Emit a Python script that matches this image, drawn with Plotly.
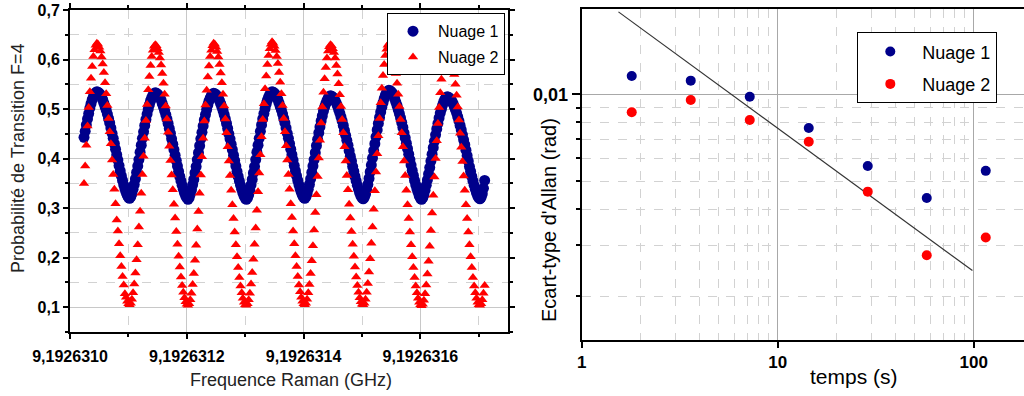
import numpy as np
import plotly.graph_objects as go

# ---------------- Left panel: Raman frequency scan ----------------
# scan grid (GHz): 344 equally spaced settings of the Raman frequency
freq_start = 9.192631024
freq_stop = 9.19263171
freq_count = 344

nuage1_prob = [
    0.443, 0.455, 0.468, 0.480, 0.491, 0.502, 0.511, 0.519, 0.525, 0.530, 0.533,
    0.535, 0.534, 0.532, 0.529, 0.525, 0.519, 0.512, 0.505, 0.498, 0.490,
    0.481, 0.472, 0.462, 0.451, 0.441, 0.430, 0.419, 0.408, 0.397, 0.386,
    0.375, 0.365, 0.356, 0.347, 0.339, 0.332, 0.326, 0.322, 0.320, 0.323,
    0.329, 0.338, 0.348, 0.359, 0.372, 0.385, 0.398, 0.413, 0.427, 0.441,
    0.454, 0.467, 0.479, 0.490, 0.500, 0.509, 0.517, 0.523, 0.528, 0.531,
    0.533, 0.532, 0.530, 0.527, 0.523, 0.518, 0.511, 0.504, 0.497, 0.489,
    0.480, 0.471, 0.461, 0.451, 0.440, 0.429, 0.418, 0.407, 0.396, 0.385,
    0.374, 0.364, 0.355, 0.346, 0.338, 0.331, 0.325, 0.321, 0.318, 0.321,
    0.328, 0.337, 0.347, 0.358, 0.371, 0.384, 0.398, 0.412, 0.426, 0.440,
    0.453, 0.466, 0.478, 0.489, 0.499, 0.508, 0.516, 0.522, 0.527, 0.530,
    0.532, 0.531, 0.529, 0.526, 0.522, 0.517, 0.511, 0.504, 0.497, 0.489,
    0.480, 0.471, 0.461, 0.450, 0.440, 0.429, 0.418, 0.407, 0.396, 0.385,
    0.374, 0.364, 0.355, 0.346, 0.338, 0.331, 0.325, 0.320, 0.318, 0.321,
    0.327, 0.336, 0.347, 0.358, 0.371, 0.384, 0.398, 0.413, 0.427, 0.441,
    0.455, 0.468, 0.480, 0.491, 0.501, 0.510, 0.518, 0.524, 0.529, 0.532,
    0.535, 0.534, 0.532, 0.529, 0.524, 0.519, 0.512, 0.505, 0.498, 0.490,
    0.481, 0.472, 0.462, 0.451, 0.441, 0.430, 0.419, 0.408, 0.397, 0.386,
    0.375, 0.365, 0.356, 0.347, 0.339, 0.332, 0.326, 0.322, 0.320, 0.323,
    0.329, 0.338, 0.348, 0.359, 0.372, 0.385, 0.398, 0.412, 0.426, 0.439,
    0.452, 0.464, 0.476, 0.486, 0.496, 0.504, 0.511, 0.517, 0.522, 0.525,
    0.527, 0.526, 0.524, 0.521, 0.517, 0.512, 0.506, 0.499, 0.492, 0.484,
    0.476, 0.467, 0.457, 0.447, 0.437, 0.427, 0.416, 0.405, 0.395, 0.384,
    0.374, 0.364, 0.355, 0.346, 0.338, 0.331, 0.325, 0.321, 0.319, 0.322,
    0.328, 0.337, 0.348, 0.360, 0.373, 0.387, 0.401, 0.416, 0.430, 0.444,
    0.458, 0.471, 0.483, 0.494, 0.504, 0.513, 0.521, 0.528, 0.533, 0.536,
    0.538, 0.537, 0.535, 0.532, 0.527, 0.521, 0.514, 0.507, 0.499, 0.491,
    0.482, 0.473, 0.463, 0.452, 0.442, 0.431, 0.420, 0.409, 0.398, 0.387,
    0.376, 0.366, 0.356, 0.347, 0.339, 0.332, 0.325, 0.320, 0.318, 0.321,
    0.327, 0.336, 0.346, 0.357, 0.369, 0.382, 0.395, 0.409, 0.422, 0.435,
    0.448, 0.460, 0.471, 0.482, 0.492, 0.500, 0.508, 0.515, 0.520, 0.523,
    0.525, 0.524, 0.522, 0.519, 0.516, 0.511, 0.505, 0.499, 0.492, 0.484,
    0.476, 0.467, 0.458, 0.448, 0.438, 0.428, 0.417, 0.406, 0.395, 0.384,
    0.374, 0.364, 0.355, 0.346, 0.338, 0.331, 0.325, 0.321, 0.319, 0.322,
    0.329, 0.340, 0.356,
]

nuage2_prob = [
    0.350, 0.385, 0.427, 0.466, 0.503, 0.535, 0.562, 0.586, 0.606, 0.620, 0.629,
    0.633, 0.631, 0.625, 0.617, 0.605, 0.591, 0.574, 0.553, 0.531, 0.507,
    0.481, 0.454, 0.430, 0.397, 0.368, 0.338, 0.309, 0.276, 0.254, 0.228,
    0.204, 0.182, 0.162, 0.145, 0.127, 0.120, 0.112, 0.107, 0.105, 0.108,
    0.116, 0.129, 0.147, 0.169, 0.196, 0.226, 0.262, 0.294, 0.330, 0.368,
    0.405, 0.441, 0.477, 0.509, 0.539, 0.566, 0.588, 0.606, 0.619, 0.627,
    0.630, 0.628, 0.622, 0.614, 0.603, 0.589, 0.572, 0.552, 0.530, 0.506,
    0.480, 0.453, 0.425, 0.396, 0.367, 0.337, 0.308, 0.280, 0.253, 0.227,
    0.203, 0.181, 0.161, 0.144, 0.130, 0.119, 0.111, 0.106, 0.104, 0.107,
    0.115, 0.128, 0.146, 0.168, 0.195, 0.225, 0.258, 0.293, 0.330, 0.367,
    0.404, 0.441, 0.476, 0.508, 0.538, 0.565, 0.587, 0.606, 0.619, 0.628,
    0.633, 0.631, 0.625, 0.616, 0.605, 0.590, 0.573, 0.553, 0.530, 0.506,
    0.480, 0.452, 0.424, 0.395, 0.366, 0.336, 0.307, 0.279, 0.252, 0.226,
    0.202, 0.180, 0.160, 0.143, 0.129, 0.118, 0.110, 0.105, 0.104, 0.107,
    0.115, 0.128, 0.147, 0.170, 0.197, 0.227, 0.260, 0.296, 0.333, 0.371,
    0.408, 0.444, 0.479, 0.511, 0.541, 0.567, 0.590, 0.608, 0.622, 0.631,
    0.636, 0.633, 0.627, 0.618, 0.606, 0.592, 0.574, 0.554, 0.531, 0.507,
    0.481, 0.454, 0.426, 0.397, 0.368, 0.338, 0.309, 0.281, 0.254, 0.228,
    0.204, 0.182, 0.162, 0.145, 0.131, 0.120, 0.112, 0.107, 0.105, 0.108,
    0.116, 0.129, 0.146, 0.168, 0.194, 0.224, 0.256, 0.291, 0.327, 0.364,
    0.401, 0.437, 0.472, 0.504, 0.534, 0.561, 0.584, 0.603, 0.617, 0.626,
    0.630, 0.628, 0.622, 0.614, 0.603, 0.588, 0.571, 0.551, 0.529, 0.505,
    0.479, 0.452, 0.424, 0.395, 0.366, 0.337, 0.308, 0.280, 0.253, 0.227,
    0.203, 0.181, 0.161, 0.144, 0.130, 0.119, 0.111, 0.106, 0.105, 0.108,
    0.116, 0.130, 0.148, 0.171, 0.198, 0.229, 0.262, 0.298, 0.335, 0.373,
    0.410, 0.446, 0.481, 0.513, 0.542, 0.568, 0.590, 0.608, 0.621, 0.629,
    0.632, 0.630, 0.624, 0.615, 0.604, 0.590, 0.572, 0.552, 0.530, 0.505,
    0.479, 0.452, 0.424, 0.395, 0.366, 0.336, 0.307, 0.279, 0.252, 0.226,
    0.202, 0.180, 0.160, 0.143, 0.129, 0.118, 0.110, 0.105, 0.103, 0.106,
    0.114, 0.127, 0.145, 0.167, 0.193, 0.223, 0.255, 0.290, 0.326, 0.363,
    0.400, 0.436, 0.471, 0.503, 0.533, 0.560, 0.583, 0.602, 0.616, 0.625,
    0.628, 0.626, 0.620, 0.612, 0.601, 0.587, 0.570, 0.550, 0.528, 0.504,
    0.478, 0.451, 0.423, 0.394, 0.365, 0.336, 0.307, 0.279, 0.252, 0.226,
    0.202, 0.180, 0.160, 0.143, 0.129, 0.118, 0.110, 0.105, 0.104, 0.107,
    0.115, 0.128, 0.144,
]

# ---------------- Right panel: Allan deviation ----------------
tau_s = [1.8, 3.6, 7.2, 14.4, 28.8, 57.6, 115.2]
allan_nuage1 = [0.01157, 0.01115, 0.00981, 0.00764, 0.00564, 0.00437, 0.00543]
allan_nuage2 = [0.00866, 0.00955, 0.00815, 0.00685, 0.00460, 0.00277, 0.00319]
fit_tau = [1.54, 98.5]
fit_sigma = [0.0193, 0.00245]

x_tick_vals = [9.192631, 9.1926312, 9.1926314, 9.1926316]
log_x_ticks = [1, 10, 100]
log_x_labels = ["1", "10", "100"]
log_x_minor = [2, 3, 4, 5, 6, 7, 8, 9, 20, 30, 40, 50, 60, 70, 80, 90, 200]
log_y_ticks = [0.01]
log_y_labels = ["0,01"]
log_y_minor = [0.002, 0.003, 0.004, 0.005, 0.006, 0.007, 0.008, 0.009]

freq = np.linspace(freq_start, freq_stop, freq_count)

BLUE = "#00008B"
RED = "#FF0000"
FONT = "Liberation Sans, Arial, sans-serif"

fig = go.Figure()

fig.add_trace(go.Scatter(
    x=freq, y=nuage1_prob, mode="markers", name="Nuage 1",
    marker=dict(symbol="circle", size=11, color=BLUE, line=dict(width=0)),
    xaxis="x", yaxis="y", legend="legend", legendgroup="a1",
))
fig.add_trace(go.Scatter(
    x=freq, y=nuage2_prob, mode="markers", name="Nuage 2",
    marker=dict(symbol="triangle-up", size=9, color=RED, line=dict(width=0)),
    xaxis="x", yaxis="y", legend="legend", legendgroup="a2",
))

fig.add_trace(go.Scatter(
    x=fit_tau, y=fit_sigma, mode="lines", showlegend=False,
    line=dict(color="#333333", width=1.2), xaxis="x2", yaxis="y2",
))
fig.add_trace(go.Scatter(
    x=tau_s, y=allan_nuage1, mode="markers", name="Nuage 1",
    marker=dict(symbol="circle", size=10, color=BLUE, line=dict(width=0)),
    xaxis="x2", yaxis="y2", legend="legend2", legendgroup="b1",
))
fig.add_trace(go.Scatter(
    x=tau_s, y=allan_nuage2, mode="markers", name="Nuage 2",
    marker=dict(symbol="circle", size=10, color=RED, line=dict(width=0)),
    xaxis="x2", yaxis="y2", legend="legend2", legendgroup="b2",
))

grid_major = "#c8c8c8"
grid_minor = "#d2d2d2"

fig.update_layout(
    width=1024, height=396, autosize=False,
    margin=dict(l=0, r=0, t=0, b=0, pad=0, autoexpand=False),
    paper_bgcolor="white", plot_bgcolor="white",
    separators=", ",
    font=dict(family=FONT, color="black"),
    xaxis=dict(
        domain=[70 / 1024, 508 / 1024], anchor="y", automargin=False,
        range=[9.192631, 9.19263175],
        tickmode="array", tickvals=x_tick_vals, tickformat=".7f",
        tickfont=dict(size=16, weight="bold", family=FONT),
        ticks="outside", ticklen=5, tickwidth=1.5, tickcolor="black",
        ticklabelstandoff=4,
        showline=True, linecolor="black", linewidth=2, mirror="allticks",
        showgrid=True, gridcolor=grid_major, gridwidth=1,
        minor=dict(dtick=1e-7, tick0=9.192631, ticks="outside", ticklen=3,
                   tickcolor="black", showgrid=True, gridcolor=grid_minor,
                   griddash="dash", gridwidth=1),
        zeroline=False,
    ),
    yaxis=dict(
        domain=[1 - 332 / 396, 1 - 10 / 396], anchor="x", automargin=False,
        range=[0.05, 0.7],
        tickmode="linear", tick0=0, dtick=0.1, tickformat=".1f",
        tickfont=dict(size=16, weight="bold", family=FONT),
        ticks="outside", ticklen=5, tickwidth=1.5, tickcolor="black",
        showline=True, linecolor="black", linewidth=2, mirror="allticks",
        showgrid=True, gridcolor=grid_major, gridwidth=1,
        minor=dict(dtick=0.05, tick0=0.05, ticks="outside", ticklen=3,
                   tickcolor="black", showgrid=True, gridcolor=grid_minor,
                   griddash="dash", gridwidth=1),
        zeroline=False,
    ),
    xaxis2=dict(
        domain=[581.7 / 1024, 1.0], anchor="y2", type="log", automargin=False,
        range=[0, 2.2566],
        tickmode="array", tickvals=log_x_ticks, ticktext=log_x_labels,
        tickfont=dict(size=17, weight="bold", family=FONT),
        ticks="outside", ticklen=6, tickwidth=1.5, tickcolor="black",
        showline=True, linecolor="black", linewidth=2, mirror=True,
        showgrid=True, gridcolor="#a8a8a8", gridwidth=1,
        minor=dict(tickvals=log_x_minor, ticks="", showgrid=True,
                   gridcolor=grid_minor, griddash="dash", gridwidth=1),
        zeroline=False,
    ),
    yaxis2=dict(
        domain=[1 - 340 / 396, 1 - 9.3 / 396], anchor="x2", type="log",
        automargin=False,
        range=[-2.8513, -1.7055],
        tickmode="array", tickvals=log_y_ticks, ticktext=log_y_labels,
        tickfont=dict(size=18, weight="bold", family=FONT),
        ticks="outside", ticklen=8, tickwidth=1.5, tickcolor="black",
        showline=True, linecolor="black", linewidth=2, mirror=False,
        showgrid=True, gridcolor="#a8a8a8", gridwidth=1,
        minor=dict(tickvals=log_y_minor, ticks="outside", ticklen=4,
                   tickcolor="black", showgrid=True, gridcolor=grid_minor,
                   griddash="dash", gridwidth=1),
        zeroline=False,
    ),
    legend=dict(
        x=505 / 1024, xanchor="right", y=1 - 13.3 / 396, yanchor="top",
        bgcolor="white", bordercolor="black", borderwidth=1,
        font=dict(size=16, family=FONT, color="black"),
        itemwidth=40, tracegroupgap=2,
    ),
    legend2=dict(
        x=857.3 / 1024, xanchor="left", y=1 - 32.3 / 396, yanchor="top",
        bgcolor="white", bordercolor="black", borderwidth=1,
        font=dict(size=18, family=FONT, color="black"),
        itemwidth=54, tracegroupgap=6,
    ),
    annotations=[
        dict(text="Frequence Raman (GHz)", xref="paper", yref="paper",
             x=290.8 / 1024, y=1 - 380 / 396, xanchor="center", yanchor="middle",
             showarrow=False, font=dict(size=18, family=FONT, color="#222222")),
        dict(text="Probabilité de Transition F=4", xref="paper", yref="paper",
             x=18 / 1024, y=1 - 158 / 396, xanchor="center", yanchor="middle",
             showarrow=False, textangle=-90,
             font=dict(size=18, family=FONT, color="#222222")),
        dict(text="Ecart-type d'Allan (rad)", xref="paper", yref="paper",
             x=549 / 1024, y=1 - 220 / 396, xanchor="center", yanchor="middle",
             showarrow=False, textangle=-90,
             font=dict(size=20, family=FONT, color="black")),
        dict(text="temps (s)", xref="paper", yref="paper",
             x=854 / 1024, y=1 - 376 / 396, xanchor="center", yanchor="middle",
             showarrow=False, font=dict(size=21, family=FONT, color="black")),
    ],
)

fig.write_html("out.html",
               config={"displayModeBar": False},
               post_script="document.body.style.margin='0';document.body.style.overflow='hidden';")
